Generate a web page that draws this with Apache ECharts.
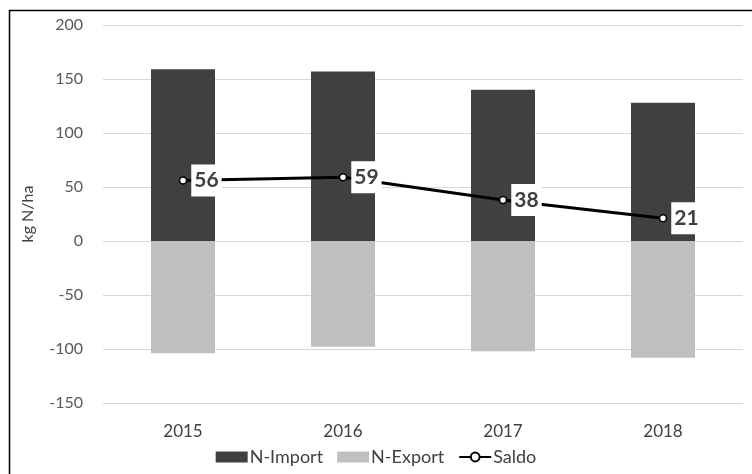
<!DOCTYPE html>
<html><head><meta charset="utf-8">
<script src="https://cdn.jsdelivr.net/npm/echarts@6/dist/echarts.min.js"></script>
<style>html,body{margin:0;padding:0;background:#fff}#c{width:752px;height:474px}</style>
</head><body><div id="c"></div>
<script>
const years = ['2015', '2016', '2017', '2018'];
const nImport = [159, 157, 140, 128];
const nExport = [-104, -98, -102, -108];
const saldo = [56, 59, 38, 21];
const yTicks = {min: -150, max: 200, interval: 50};

const FONT = 'Lato';
const chart = echarts.init(document.getElementById('c'), null, {renderer: 'canvas'});
chart.setOption({
  animation: false,
  textStyle: {fontFamily: FONT},
  grid: {left: 103, right: 9, top: 25, bottom: 71},
  graphic: [
    {type: 'line', shape: {x1: 9.5, y1: 10, x2: 9.5, y2: 474}, style: {stroke: '#000', lineWidth: 1.5}},
    {type: 'line', shape: {x1: 9, y1: 10.5, x2: 752, y2: 10.5}, style: {stroke: '#000', lineWidth: 1.5}}
  ],
  legend: {
    bottom: 3, left: 'center', itemGap: 14, itemWidth: 32, itemHeight: 11,
    textStyle: {fontFamily: FONT, fontSize: 18, color: '#404040', padding: [0, 0, 0, -3]},
    data: [
      {name: 'N-Import', icon: 'rect'},
      {name: 'N-Export', icon: 'rect'},
      {name: 'Saldo'}
    ]
  },
  xAxis: {
    type: 'category', data: years, position: 'bottom',
    axisLine: {show: false}, axisTick: {show: false},
    axisLabel: {fontFamily: FONT, fontSize: 17, color: '#404040', margin: 20}
  },
  yAxis: {
    type: 'value', min: yTicks.min, max: yTicks.max, interval: yTicks.interval,
    name: 'kg N/ha', nameLocation: 'middle', nameGap: 67,
    nameTextStyle: {fontFamily: FONT, fontSize: 16, color: '#404040'},
    axisLine: {show: false}, axisTick: {show: false},
    axisLabel: {fontFamily: FONT, fontSize: 16, color: '#595959', margin: 20},
    splitLine: {lineStyle: {color: '#d9d9d9', width: 1}}
  },
  series: [
    {name: 'N-Import', type: 'bar', data: nImport, barWidth: 64, barGap: '-100%',
     itemStyle: {color: '#404040'}},
    {name: 'N-Export', type: 'bar', data: nExport, barWidth: 64,
     itemStyle: {color: '#bfbfbf'}},
    {name: 'Saldo', type: 'line', data: saldo, z: 5,
     lineStyle: {color: '#000', width: 3},
     symbol: 'circle', symbolSize: 7,
     itemStyle: {color: '#fff', borderColor: '#000', borderWidth: 1.5},
     label: {show: true, position: 'right', distance: 4,
       fontFamily: FONT, fontSize: 21, fontWeight: 'bold', color: '#404040',
       backgroundColor: '#fff', padding: [6, 3, 5, 3]}}
  ]
});
</script></body></html>
